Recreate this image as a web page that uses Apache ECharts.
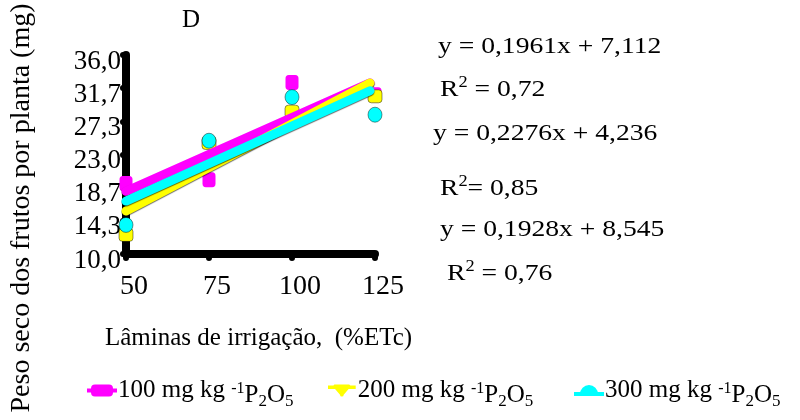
<!DOCTYPE html>
<html>
<head>
<meta charset="utf-8">
<script src="https://cdn.jsdelivr.net/npm/echarts@6/dist/echarts.min.js"></script>
<style>
  html, body { margin: 0; padding: 0; background: #fff; }
  #chart { width: 800px; height: 420px; }
</style>
</head>
<body>
<div id="chart"></div>
<script>
// Irrigation depth (% ETc) and fruit dry mass per plant (mg) for three P2O5 doses
const X_VALUES = [50, 75, 100, 125];
const DOSES = ['100', '200', '300'];
const DRY_MASS_100 = [19.2, 19.7, 32.4, 30.8];
const DRY_MASS_200 = [12.5, 24.5, 28.6, 30.6];
const DRY_MASS_300 = [13.8, 24.8, 30.5, 28.2];

// Linear fits y = a x + b for each dose
const FIT_SLOPE = [0.1928, 0.2276, 0.1961];
const FIT_INTERCEPT = [8.545, 4.236, 7.112];
const FIT_R2 = ['0,76', '0,85', '0,72'];
const FIT_X_RANGE = [50, 123.5];

const Y_TICKS = [10, 14.333, 18.667, 23, 27.333, 31.667, 36];
const X_TICKS = [50, 75, 100, 125];

const COLORS = ['#FF00FF', '#FFFF00', '#00FFFF'];
const FONT = "'Liberation Serif', 'Times New Roman', serif";

const massSeries = [DRY_MASS_100, DRY_MASS_200, DRY_MASS_300];
const seriesName = d => d + ' mg kg -1P2O5';
const comma = v => String(v).replace('.', ',');

const markerShapes = ['roundRect', 'roundRect', 'circle'];
const markerSizes = [[13, 15], [14, 13], [14, 15]];
const legendIcons = [
  'path://M0,4h30v4h-30z M8,0h14a4,4 0 0 1 4,4v4a4,4 0 0 1 -4,4h-14a4,4 0 0 1 -4,-4v-4a4,4 0 0 1 4,-4z',
  'path://M0,2h30v4h-30z M7,1h16a2,2 0 0 1 1,3l-7,8a2,2 0 0 1 -4,0l-7,-8a2,2 0 0 1 1,-3z',
  'path://M0,8h30v4h-30z M6,10a9,9 0 0 1 18,0z'
];
const legendLeft = [82, 323, 569];

const scatterSeries = massSeries.map((vals, i) => ({
  name: seriesName(DOSES[i]),
  type: 'scatter',
  symbol: markerShapes[i],
  symbolSize: markerSizes[i],
  itemStyle: {
    color: COLORS[i],
    borderColor: i === 0 ? COLORS[i] : 'rgba(0,0,0,0.55)',
    borderWidth: i === 0 ? 0 : 0.8,
    opacity: 1
  },
  z: 3,
  data: X_VALUES.map((x, k) => [x, vals[k]])
}));

const fitSeries = DOSES.map((d, i) => ({
  name: 'fit ' + d,
  type: 'line',
  symbol: 'none',
  silent: true,
  z: 4 + i,
  lineStyle: {
    color: COLORS[i], width: 9, cap: 'round',
    shadowColor: 'rgba(0,0,0,0.6)', shadowBlur: 1, shadowOffsetY: 1
  },
  data: FIT_X_RANGE.map(x => [x, FIT_SLOPE[i] * x + FIT_INTERCEPT[i]])
}));

const legendRich = {
  a: { fontFamily: FONT, fontSize: 25, color: '#000' },
  s: { fontFamily: FONT, fontSize: 16, color: '#000', padding: [0, 0, 4, 0] },
  p: { fontFamily: FONT, fontSize: 25, color: '#000', padding: [10, 0, 0, 0] },
  b: { fontFamily: FONT, fontSize: 17, color: '#000', padding: [22, 0, 0, 0] }
};

const legends = DOSES.map((d, i) => ({
  left: legendLeft[i],
  top: 373,
  orient: 'horizontal',
  selectedMode: false,
  itemWidth: 30,
  itemHeight: 12,
  itemGap: 0,
  data: [{ name: seriesName(d), icon: legendIcons[i],
           itemStyle: { color: COLORS[i], borderWidth: 0 } }],
  formatter: () => '{a|' + d + ' mg kg }{s|-1}{p|P}{b|2}{p|O}{b|5}',
  textStyle: { rich: legendRich, padding: [0, 0, 0, -4] }
}));

// Fit equations and R² on the right, listed top to bottom
const eqOrder = [2, 1, 0];
const eqPos = [
  { eq: [438, 47], r2: [440, 90] },
  { eq: [433, 134], r2: [440, 189] },
  { eq: [440, 230], r2: [447, 274] }
];
const textRich = {
  r: { fontFamily: FONT, fontSize: 24, color: '#000' },
  s: { fontFamily: FONT, fontSize: 16, color: '#000', padding: [0, 0, 14, 0] }
};
const eqGraphics = [];
eqOrder.forEach((idx, row) => {
  const p = eqPos[row];
  eqGraphics.push({
    type: 'text', x: p.eq[0], y: p.eq[1], scaleX: 1.15,
    style: {
      text: 'y = ' + comma(FIT_SLOPE[idx]) + 'x + ' + comma(FIT_INTERCEPT[idx]),
      font: '24px ' + FONT, fill: '#000',
      textAlign: 'left', textVerticalAlign: 'middle', align: 'left', verticalAlign: 'middle'
    }
  });
  const eqSign = row === 1 ? '= ' : ' = ';
  eqGraphics.push({
    type: 'text', x: p.r2[0], y: p.r2[1], scaleX: 1.15,
    style: {
      text: '{r|R}{s|2}{r|' + eqSign + FIT_R2[idx] + '}',
      rich: textRich, fill: '#000',
      textAlign: 'left', textVerticalAlign: 'middle', align: 'left', verticalAlign: 'middle'
    }
  });
});

const chart = echarts.init(document.getElementById('chart'), null, { renderer: 'canvas' });
chart.setOption({
  backgroundColor: '#fff',
  animation: false,
  legend: legends,
  grid: { left: 126, right: 425, top: 55, bottom: 166, containLabel: false },
  xAxis: {
    type: 'value', min: 50, max: 125, interval: 25,
    axisLine: { lineStyle: { color: '#000', width: 8, cap: 'round' } },
    axisTick: { length: 4, lineStyle: { color: '#000', width: 6, cap: 'round' },
                customValues: X_TICKS },
    axisLabel: { color: '#000', fontFamily: FONT, fontSize: 28, margin: 19,
                 padding: [0, 0, 0, 16], customValues: X_TICKS },
    splitLine: { show: false }
  },
  yAxis: {
    type: 'value', min: 10, max: 36,
    axisLine: { lineStyle: { color: '#000', width: 8, cap: 'round' } },
    axisTick: { length: 3, lineStyle: { color: '#000', width: 6, cap: 'round' },
                customValues: Y_TICKS },
    axisLabel: { color: '#000', margin: 5, customValues: Y_TICKS,
                 formatter: v => '{v|' + v.toFixed(1).replace('.', ',') + '}',
                 rich: { v: { fontFamily: FONT, fontSize: 27, color: '#000', padding: [13, 0, 0, 0] } } },
    splitLine: { show: false }
  },
  graphic: [
    { type: 'text', x: 191, y: 20,
      style: { text: 'D', font: '25px ' + FONT, fill: '#000',
               textAlign: 'center', textVerticalAlign: 'middle', align: 'center', verticalAlign: 'middle' } },
    { type: 'text', x: 22, y: 208, rotation: Math.PI / 2,
      style: { text: 'Peso seco dos frutos por planta (mg)', font: '28px ' + FONT, fill: '#000',
               textAlign: 'center', textVerticalAlign: 'middle', align: 'center', verticalAlign: 'middle' } },
    { type: 'text', x: 105, y: 338,
      style: { text: 'Lâminas de irrigação,  (%ETc)', font: '25px ' + FONT, fill: '#000',
               textAlign: 'left', textVerticalAlign: 'middle', align: 'left', verticalAlign: 'middle' } }
  ].concat(eqGraphics),
  series: scatterSeries.concat(fitSeries)
});
</script>
</body>
</html>
